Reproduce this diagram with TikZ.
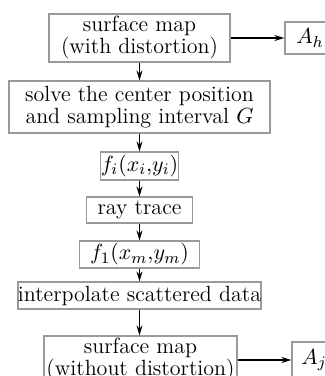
\documentclass[tikz,border=0pt]{standalone}
\usepackage{amsmath,amssymb}
\usetikzlibrary{arrows.meta,positioning}
\definecolor{BoxGray}{HTML}{9A9A9A}

\begin{document}
\begin{tikzpicture}[x=0.5pt, y=-0.5pt,
  box/.style={draw=BoxGray, line width=0.6pt, inner sep=0pt, align=center,
    font=\fontsize{11}{11}\selectfont},
  flow/.style={-{Stealth[length=5pt,width=3pt]}, line width=0.6pt}]
  \useasboundingbox (0,0) rectangle (325,376);

  % Main chain
  \node[box, minimum width=90.5pt, minimum height=24pt] (mapin) at (139.5,38) {surface map\\(with distortion)};
  \node[box, minimum width=130.5pt, minimum height=26pt] (solve) at (139.5,107) {solve the center position\\and sampling interval $G$};
  \node[box, minimum width=38.5pt, minimum height=14pt] (fi) at (139.5,166) {$f_i(x_i{,}y_i)$};
  \node[box, minimum width=53pt, minimum height=13pt] (trace) at (139.5,210) {ray trace};
  \node[box, minimum width=60pt, minimum height=13.5pt] (fone) at (139.5,254.5) {$f_1(x_m{,}y_m)$};
  \node[box, minimum width=120pt, minimum height=13.5pt] (interp) at (139.5,295.5) {interpolate scattered data};
  \node[box, minimum width=96.5pt, minimum height=24pt] (mapout) at (140.5,360) {surface map\\(without distortion)};

  % Side outputs
  \node[box, minimum width=25pt, minimum height=16pt] (ah) at (310,38) {$A_h$};
  \node[box, minimum width=22pt, minimum height=18pt] (aj) at (314,360) {$A_j$};

  % Arrows
  \draw[flow] (mapin) -- (solve);
  \draw[flow] (solve) -- (fi);
  \draw[flow] (fi) -- (trace);
  \draw[flow] (trace) -- (fone);
  \draw[flow] (fone) -- (interp);
  \draw[flow] (interp.south) -- (interp.south |- mapout.north);
  \draw[flow] (mapin) -- (ah);
  \draw[flow] (mapout) -- (aj);
\end{tikzpicture}
\end{document}
